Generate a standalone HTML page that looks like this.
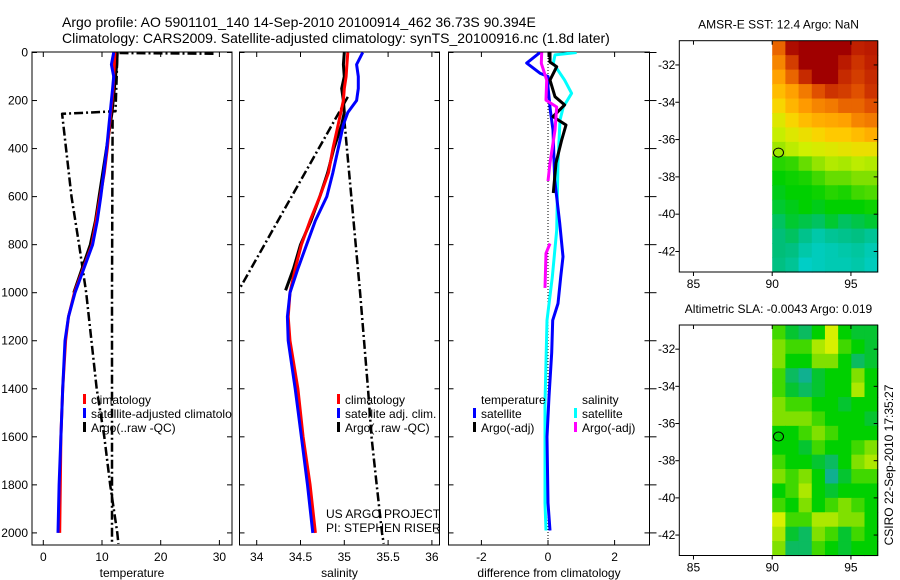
<!DOCTYPE html>
<html><head><meta charset="utf-8"><style>
body{margin:0;background:#fff}
svg{display:block;font-family:"Liberation Sans",sans-serif}
text{fill:#000}
</style></head><body>
<svg id="c" width="900" height="580" viewBox="0 0 900 580">
<text x="62" y="27" font-size="14">Argo profile: AO 5901101_140 14-Sep-2010 20100914_462 36.73S 90.394E</text>
<text x="62" y="43" font-size="14">Climatology: CARS2009. Satellite-adjusted climatology: synTS_20100916.nc (1.8d later)</text>
<g id="g"></g>
</svg>
<script>
// ---- data ----
const depths = [0,50,100,150,200,250,300,400,500,600,700,800,900,1000,1100,1200,1400,1600,1800,2000];
const tempClim = [12.2,12.1,12.0,11.9,11.7,11.5,11.3,10.9,10.4,9.7,9.0,8.3,6.8,5.3,4.3,3.8,3.3,3.0,2.9,2.8];
const tempSat  = [12.0,11.6,12.0,11.8,11.6,11.4,11.2,10.8,10.3,9.8,9.2,8.4,6.9,5.4,4.3,3.7,3.3,3.0,2.7,2.5];
const salClim  = [35.04,35.03,35.02,35.0,34.99,34.96,34.93,34.87,34.82,34.72,34.61,34.51,34.44,34.38,34.36,34.38,34.47,34.53,34.61,34.67];
const salSat   = [35.21,35.14,35.16,35.16,35.14,35.04,34.99,34.93,34.87,34.80,34.67,34.57,34.47,34.38,34.35,34.36,34.44,34.51,34.58,34.64];
const argoTempDepth = [0,50,100,200,250,300,600,700,800,900,1000];
const argoTemp      = [12.6,12.5,12.3,11.9,11.7,11.4,9.5,8.9,8.0,6.6,5.2];
const argoRawTempDepth = [5,2,100,245,255,600,800,1000,1400,1600,1800,2000,2045];
const argoRawTemp      = [29,12.6,12.5,12.3,3.2,4.8,6.1,7.3,9.1,10.4,11.4,12.6,12.8];
const argoRawTemp2Depth = [280,1000,2045];
const argoRawTemp2      = [11.8,11.7,11.7];
const argoSalDepth = [0,50,100,150,200,250,300,400,500,600,700,800,900,990];
const argoSal      = [35.0,34.99,35.0,34.97,34.99,35.0,34.97,34.88,34.81,34.72,34.62,34.5,34.42,34.33];
const argoRawSalDepth = [185,980];
const argoRawSal      = [35.04,33.81];
const argoRawSal2Depth = [280,1000,1400,1600,1800,2000,2045];
const argoRawSal2      = [35.0,35.18,35.27,35.31,35.37,35.43,35.45];
const dTempSatDepth = [0,44,86,100,143,240,323,530,710,850,935,1045,1115,1250,1433,1600,1875,1990];
const dTempSat      = [-0.24,-0.64,-0.24,0,0,0.07,0.15,0.2,0.35,0.45,0.38,0.3,0.14,0.11,0.03,-0.03,0,0.06];
const dSalSatDepth = [0,10,45,115,170,227,281,460,740,935,1115,1460,1875,1990];
const dSalSat      = [0.86,0.21,0.16,0.5,0.71,0.46,0.36,0.3,0.26,0.13,-0.03,-0.09,-0.09,-0.06];
const dTempArgoDepth = [0,40,59,115,184,218,267,302,364,460,585];
const dTempArgo      = [0.06,0.06,0.26,0.06,0.21,0.5,0.15,0.54,0.41,0.24,0.16];
const dSalArgoDepth = [0,45,115,198,227,323,460,535];
const dSalArgo      = [-0.19,-0.2,-0.04,-0.06,0.26,0.21,0.06,0.0];
const dSalArgo2Depth = [795,836,980];
const dSalArgo2      = [0.06,-0.06,-0.09];
const depthTicks = [0,200,400,600,800,1000,1200,1400,1600,1800,2000];
const tempTicks = [0,10,20,30];
const salTicks = [34,34.5,35,35.5,36];
const diffTicks = [-2,0,2];
const lonTicks = [85,90,95];
const latTicks = [-32,-34,-36,-38,-40,-42];
const sstGrid = [
[14.8,15.8,16,16,16,16,15.5,15.6],
[14.5,15.2,16,16,16,15.6,15.3,15.5],
[14.2,14.8,15.4,16,16,15.4,15.2,15.4],
[13.8,14.2,14.6,15,15.3,15.2,15,15.3],
[13.4,13.9,14.3,14.5,14.6,14.8,14.8,15],
[13,13.4,13.8,14,14.1,14.2,14.5,14.6],
[12.7,13,13.2,13.4,13.6,13.6,13.8,14],
[12.3,12.6,12.8,12.9,13,13.1,13.2,13.2],
[11.3,11.4,11.8,12.2,12.5,12.4,12.6,12.5],
[11,11.1,11.2,11.5,11.8,11.8,12,12],
[10.9,11,11,11.1,11.3,11.2,11.5,11.6],
[10.8,10.9,11,10.9,11,11,11,11.1],
[10.6,10.8,10.7,10.6,10.8,10.6,10.7,10.8],
[10.5,10.6,10.3,10,10.2,10.3,10.4,10.2],
[10.5,10.4,10,9.8,9.9,10,10.1,9.9],
[10.4,10.2,9.7,9.8,9.9,9.9,10,9.8]];
const slaGrid = [
[0.5,0.3,0.2,0.4,0.8,0.4,0.3,0.3],
[0.6,0.5,0.5,0.7,0.8,0.5,0.4,0.3],
[0.6,0.4,0.4,0.6,0.6,0.4,0.2,0.3],
[0.5,0.2,0.1,0.3,0.4,0.4,0.6,0.4],
[0.5,0.3,0.2,0.3,0.4,0.4,0.7,0.4],
[0.6,0.5,0.5,0.4,0.4,0.3,0.4,0.4],
[0.6,0.6,0.6,0.5,0.4,0.4,0.4,0.3],
[0.4,0.4,0.5,0.6,0.5,0.4,0.4,0.4],
[0.4,0.4,0.3,0.5,0.4,0.4,0.5,0.6],
[0.5,0.4,0.4,0.3,0.2,0.4,0.6,0.7],
[0.6,0.5,0.6,0.4,0.1,0.3,0.5,0.5],
[0.4,0.5,0.7,0.4,0.3,0.4,0.4,0.4],
[0.5,0.4,0.6,0.4,0.5,0.6,0.5,0.4],
[0.8,0.5,0.5,0.7,0.7,0.6,0.6,0.4],
[0.7,0.3,0.2,0.6,0.5,0.3,0.5,0.4],
[0.6,0.2,0.2,0.5,0.4,0.3,0.4,0.4]];
const argoLon = 90.4, argoLat = -36.7;

// ---- drawing ----
const NS='http://www.w3.org/2000/svg';
const G=document.getElementById('g');
function mk(tag,attrs,parent){const e=document.createElementNS(NS,tag);for(const k in attrs)e.setAttribute(k,attrs[k]);(parent||G).appendChild(e);return e;}
const yD = d => 52.5 + d*0.2402;
const xT = v => 43.3 + v*5.87;
const xS = v => 256.7 + (v-34)*87.6;
const xDf = v => 548 + v*33.3;
const TOP=52, BOT=545;
const panels=[{x0:32,x1:232,fx:xT,ticks:tempTicks,label:'temperature',name:'temperature'},
{x0:239.5,x1:439.5,fx:xS,ticks:salTicks,label:'salinity',name:'salinity'},
{x0:448.5,x1:649.5,fx:xDf,ticks:diffTicks,label:'difference from climatology',name:'difference'}];
panels.forEach((p,i)=>{
  const r=mk('rect',{x:p.x0,y:TOP,width:p.x1-p.x0,height:BOT-TOP,fill:'none',stroke:'#000','stroke-width':1});
  
  
  p.ticks.forEach(t=>{
    const x=p.fx(t);
    mk('line',{x1:x,x2:x,y1:BOT,y2:BOT-5,stroke:'#000'});
    mk('line',{x1:x,x2:x,y1:TOP,y2:TOP+5,stroke:'#000'});
    const tx=mk('text',{x:x,y:BOT+16,'font-size':12,'text-anchor':'middle'});
    tx.textContent=t;
    
    
  });
  depthTicks.forEach(d=>{
    const y=yD(d);
    mk('line',{x1:p.x0,x2:p.x0+5,y1:y,y2:y,stroke:'#000'});
    mk('line',{x1:p.x1,x2:p.x1-5,y1:y,y2:y,stroke:'#000'});
    if(i==2) mk('line',{x1:p.x1,x2:p.x1+7,y1:y,y2:y,stroke:'#000'});
  });
  const lb=mk('text',{x:(p.x0+p.x1)/2,y:577,'font-size':12,'text-anchor':'middle'});
  lb.textContent=p.label;
  
  
});
depthTicks.forEach(d=>{
  const t=mk('text',{x:28,y:yD(d)+4,'font-size':12,'text-anchor':'end'});
  t.textContent=d;
  
  
});
// clips
const defs=mk('defs',{});
panels.forEach((p,i)=>{const cp=mk('clipPath',{id:'cp'+i},defs);mk('rect',{x:p.x0,y:TOP,width:p.x1-p.x0,height:BOT-TOP},cp);});
function line(xs,ds,fx,color,w,dash,clip,name){
  const pts=xs.map((v,k)=>fx(v).toFixed(1)+','+yD(ds[k]).toFixed(1)).join(' ');
  const a={points:pts,fill:'none',stroke:color,'stroke-width':w,'clip-path':'url(#cp'+clip+')','stroke-linejoin':'round'};
  if(dash)a['stroke-dasharray']=dash;
  const e=mk('polyline',a);
  
  
}
const DD='9,3,2,3';
line(argoRawTemp,argoRawTempDepth,xT,'#000',2.5,DD,0,'temp-argo-raw-line');
line(argoRawTemp2,argoRawTemp2Depth,xT,'#000',2.5,DD,0,'temp-argo-raw-line-2');
line(argoTemp,argoTempDepth,xT,'#000',3,null,0,'temp-argo-line');
line(tempClim,depths,xT,'#f00',3,null,0,'temp-climatology-line');
line(tempSat,depths,xT,'#00f',3,null,0,'temp-satellite-line');
line(argoRawSal,argoRawSalDepth,xS,'#000',2.5,DD,1,'sal-argo-raw-line');
line(argoRawSal2,argoRawSal2Depth,xS,'#000',2.5,DD,1,'sal-argo-raw-line-2');
line(argoSal,argoSalDepth,xS,'#000',3,null,1,'sal-argo-line');
line(salClim,depths,xS,'#f00',3,null,1,'sal-climatology-line');
line(salSat,depths,xS,'#00f',3,null,1,'sal-satellite-line');
const z=mk('line',{x1:xDf(0),x2:xDf(0),y1:TOP,y2:BOT,stroke:'#000','stroke-dasharray':'1,2'});


line(dSalSat,dSalSatDepth,xDf,'#0ff',3,null,2,'diff-sal-satellite-line');
line(dTempSat,dTempSatDepth,xDf,'#00f',3,null,2,'diff-temp-satellite-line');
line(dTempArgo,dTempArgoDepth,xDf,'#000',3,null,2,'diff-temp-argo-line');
line(dSalArgo,dSalArgoDepth,xDf,'#f0f',3,null,2,'diff-sal-argo-line');
line(dSalArgo2,dSalArgo2Depth,xDf,'#f0f',3,null,2,'diff-sal-argo-line-2');
// legends
function leg(x,y,color,label,name,clip){
  const b=mk('rect',{x:x,y:y-10,width:3,height:10,fill:color});
  
  
  const t=mk('text',{x:x+8,y:y,'font-size':12});
  if(clip!==undefined)t.setAttribute('clip-path','url(#cp'+clip+')');
  t.textContent=label;
  
  
}
leg(83,404,'#f00','climatology','legend-temp-climatology',0);
leg(83,418,'#00f','satellite-adjusted climatology','legend-temp-satellite',0);
leg(83,432,'#000','Argo(..raw -QC)','legend-temp-argo',0);
leg(337,404,'#f00','climatology','legend-sal-climatology');
leg(337,418,'#00f','satellite adj. clim.','legend-sal-satellite');
leg(337,432,'#000','Argo(..raw -QC)','legend-sal-argo');
const th=mk('text',{x:481,y:404,'font-size':12});th.textContent='temperature';


const sh=mk('text',{x:582,y:404,'font-size':12});sh.textContent='salinity';


leg(473,418,'#00f','satellite','legend-diff-temp-satellite');
leg(473,432,'#000','Argo(-adj)','legend-diff-temp-argo');
leg(574,418,'#0ff','satellite','legend-diff-sal-satellite');
leg(574,432,'#f0f','Argo(-adj)','legend-diff-sal-argo');
const c1=mk('text',{x:326,y:518,'font-size':12});c1.textContent='US ARGO PROJECT';


const c2=mk('text',{x:326,y:532,'font-size':12});c2.textContent='PI: STEPHEN RISER';


// maps
function rgb(a){return 'rgb('+a.map(Math.round).join(',')+')';}
function lerpColor(stops,v){
  if(v<=stops[0][0])return rgb(stops[0][1]);
  for(let i=1;i<stops.length;i++){if(v<=stops[i][0]){const a=stops[i-1],b=stops[i],t=(v-a[0])/(b[0]-a[0]);
    return rgb([0,1,2].map(k=>a[1][k]+(b[1][k]-a[1][k])*t));}}
  return rgb(stops[stops.length-1][1]);
}
const sstStops=[[9.6,[0,208,208]],[10.5,[0,190,120]],[11,[0,208,0]],[12,[128,224,0]],[12.8,[208,240,0]],[13.5,[255,208,0]],[14.3,[255,154,0]],[15,[224,80,0]],[15.5,[192,32,0]],[16,[160,0,0]]];
const slaStops=[[0.1,[16,176,144]],[0.4,[0,208,0]],[0.6,[128,224,0]],[0.8,[216,240,0]]];
const LON0=84.1,LON1=96.7,LAT0=-30.7,LAT1=-43.1;
function drawMap(top,bot,grid,stops,title,name){
  const L=679.3,R=877.7;
  const xL=lon=>L+(lon-LON0)/(LON1-LON0)*(R-L);
  const yL=lat=>top+(lat-LAT0)/(LAT1-LAT0)*(bot-top);
  const g=mk('g',{});
  
  
  const rows=grid.length,cols=grid[0].length;
  const x90=xL(90);
  const cw=(R-x90)/cols,ch=(bot-top)/rows;
  grid.forEach((row,r)=>row.forEach((v,c)=>{
    const cell=mk('rect',{x:(x90+c*cw).toFixed(2),y:(top+r*ch).toFixed(2),width:(cw+0.6).toFixed(2),height:(ch+0.6).toFixed(2),fill:lerpColor(stops,v)},g);
    
    
  }));
  mk('rect',{x:L,y:top,width:R-L,height:bot-top,fill:'none',stroke:'#000'},g);
  lonTicks.forEach(t=>{const x=xL(t);mk('line',{x1:x,x2:x,y1:bot,y2:bot+4,stroke:'#000'},g);mk('line',{x1:x,x2:x,y1:top,y2:top+4,stroke:'#000'},g);
    const tx=mk('text',{x:x,y:bot+16,'font-size':12,'text-anchor':'middle'},g);tx.textContent=t;
    
    });
  latTicks.forEach(t=>{const y=yL(t);mk('line',{x1:L,x2:L-4,y1:y,y2:y,stroke:'#000'},g);mk('line',{x1:R,x2:R-4,y1:y,y2:y,stroke:'#000'},g);
    const tx=mk('text',{x:L-4,y:y+4,'font-size':12,'text-anchor':'end'},g);tx.textContent=t;
    
    });
  const ci=mk('ellipse',{cx:xL(argoLon),cy:yL(argoLat),rx:5,ry:4.5,fill:'none',stroke:'#000'},g);
  
  
  const tt=mk('text',{x:(L+R)/2,y:top-12,'font-size':12,'text-anchor':'middle'},g);tt.textContent=title;
  
  
}
drawMap(40.7,272,sstGrid,sstStops,'AMSR-E SST: 12.4 Argo: NaN','sst');
drawMap(325,555.5,slaGrid,slaStops,'Altimetric SLA: -0.0043 Argo: 0.019','sla');
const cs=mk('text',{x:0,y:0,'font-size':12,'text-anchor':'middle',transform:'translate(893,465) rotate(-90)'});
cs.textContent='CSIRO 22-Sep-2010 17:35:27';


</script>
</body></html>
